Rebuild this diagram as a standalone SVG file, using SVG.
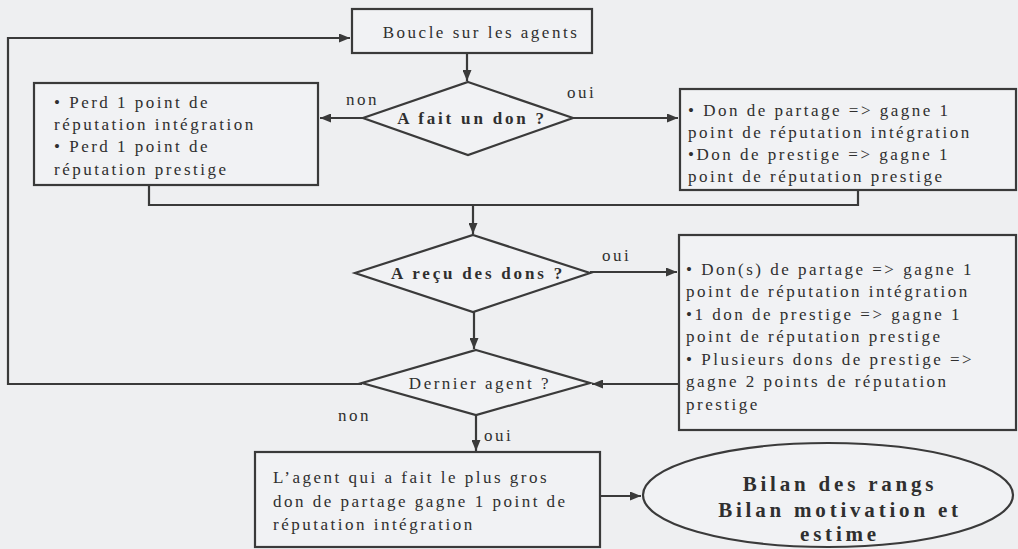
<svg xmlns="http://www.w3.org/2000/svg" width="1018" height="549" viewBox="0 0 1018 549">
<style>
.bg{fill:#eeeff1}
.box{fill:#f1f2f4;stroke:#3a3a3a;stroke-width:2.2}
.ln{fill:none;stroke:#3a3a3a;stroke-width:2.2}
text{font-family:"Liberation Serif","Times New Roman",serif;fill:#2f2f2f;font-size:17px;letter-spacing:2.5px}
.b{font-weight:bold;letter-spacing:2.8px}
.big{font-weight:bold;font-size:21px;letter-spacing:3.8px}
.m{text-anchor:middle}
</style>
<defs>
<marker id="ah" markerWidth="11" markerHeight="9" refX="11" refY="4.5" orient="auto" markerUnits="userSpaceOnUse">
<path d="M0,0 L11,4.5 L0,9 Z" fill="#3a3a3a"/>
</marker>
</defs>
<rect class="bg" x="0" y="0" width="1018" height="549"/>
<g id="connectors">
<path class="ln" d="M467,53 V81" marker-end="url(#ah)"/>
<path class="ln" d="M363,118 H320" marker-end="url(#ah)"/>
<path class="ln" d="M573,118 H678" marker-end="url(#ah)"/>
<path class="ln" d="M149,185 V205 H858 V190"/>
<path class="ln" d="M473,205 V234" marker-end="url(#ah)"/>
<path class="ln" d="M590,272 H677" marker-end="url(#ah)"/>
<path class="ln" d="M474,312 V349" marker-end="url(#ah)"/>
<path class="ln" d="M679,384 H592" marker-end="url(#ah)"/>
<path class="ln" d="M362,384 H8 V38 H350" marker-end="url(#ah)"/>
<path class="ln" d="M476,415 V451" marker-end="url(#ah)"/>
<path class="ln" d="M600,496 H641" marker-end="url(#ah)"/>
</g>
<g id="n_boucle">
<rect class="box" x="352" y="9" width="240" height="44"/>
<text class="m" x="481" y="38">Boucle sur les agents</text>
</g>
<g id="n_fait_don">
<polygon class="box" points="468,82 573,118 468,155 363,118"/>
<text class="m b" x="472" y="124">A fait un don ?</text>
</g>
<text x="346" y="105">non</text>
<text x="567" y="98">oui</text>
<g id="n_perd">
<rect class="box" x="34" y="83" width="284" height="102"/>
<text x="54" y="108">• Perd 1 point de</text>
<text x="54" y="130">réputation intégration</text>
<text x="54" y="152">• Perd 1 point de</text>
<text x="54" y="175">réputation prestige</text>
</g>
<g id="n_gagne1">
<rect class="box" x="680" y="89" width="336" height="101"/>
<text x="688" y="116">• Don de partage =&gt; gagne 1</text>
<text x="688" y="138">point de réputation intégration</text>
<text x="688" y="160">•Don de prestige =&gt; gagne 1</text>
<text x="688" y="182">point de réputation prestige</text>
</g>
<g id="n_recu">
<polygon class="box" points="473,235 590,273 473,312 355,273"/>
<text class="m b" x="478" y="279">A reçu des dons ?</text>
</g>
<text x="602" y="261">oui</text>
<g id="n_gagne2">
<rect class="box" x="679" y="235" width="337" height="195"/>
<text x="686" y="275">• Don(s) de partage =&gt; gagne 1</text>
<text x="686" y="297">point de réputation intégration</text>
<text x="686" y="320">•1 don de prestige =&gt; gagne 1</text>
<text x="686" y="342">point de réputation prestige</text>
<text x="686" y="365">• Plusieurs dons de prestige =&gt;</text>
<text x="686" y="387">gagne 2 points de réputation</text>
<text x="686" y="410">prestige</text>
</g>
<g id="n_dernier">
<polygon class="box" points="476,350 590,383 476,415 362,383"/>
<text class="m" x="480" y="389">Dernier agent ?</text>
</g>
<text x="338" y="421">non</text>
<text x="484" y="441">oui</text>
<g id="n_gros">
<rect class="box" x="255" y="452" width="345" height="95"/>
<text x="273" y="483">L’agent qui a fait le plus gros</text>
<text x="273" y="507">don de partage gagne 1 point de</text>
<text x="273" y="530">réputation intégration</text>
</g>
<g id="n_bilan">
<ellipse class="box" cx="828" cy="495" rx="185" ry="52"/>
<text class="m big" x="840" y="491">Bilan des rangs</text>
<text class="m big" x="840" y="517">Bilan motivation et</text>
<text class="m big" x="840" y="541">estime</text>
</g>
</svg>
